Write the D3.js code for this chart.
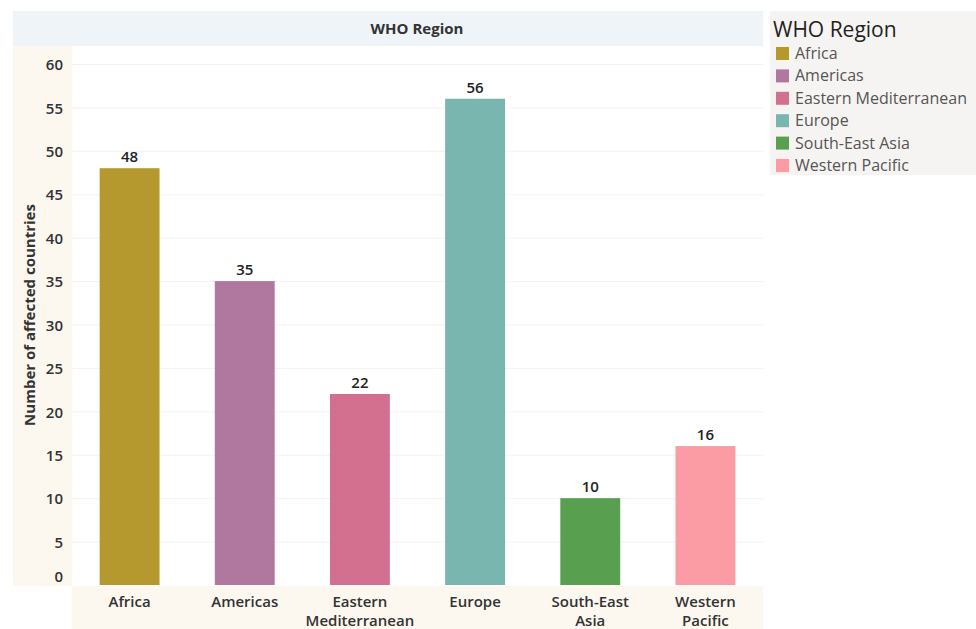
<!DOCTYPE html>
<html lang="en">
<head>
<meta charset="UTF-8">
<title>WHO Region</title>
<script src="https://cdn.jsdelivr.net/npm/d3@7"></script>
<style>
  body { margin: 0; background: #fff; }
  svg text { font-family: "Open Sans", "Noto Sans", sans-serif; }
</style>
</head>
<body>
<script>
  var regions = ['Africa', 'Americas', 'Eastern Mediterranean', 'Europe', 'South-East Asia', 'Western Pacific'];
  var axisLabels = [['Africa'], ['Americas'], ['Eastern', 'Mediterranean'], ['Europe'], ['South-East', 'Asia'], ['Western', 'Pacific']];
  var counts = [48, 35, 22, 56, 10, 16];
  var colors = ['#b5992e', '#b0789f', '#d3708f', '#7ab6b0', '#58a04f', '#fb9ba4'];
  var yTicks = [0, 5, 10, 15, 20, 25, 30, 35, 40, 45, 50, 55, 60];

  var W = 976, H = 629;
  var plot = {left: 72, right: 763, top: 46, bottom: 585};

  var svg = d3.select('body').append('svg').attr('width', W).attr('height', H);

  var x = d3.scaleBand().domain(regions).range([plot.left, plot.right]).paddingInner(0.48).paddingOuter(0.24);
  var y = d3.scaleLinear().domain([0, 60]).range([plot.bottom, 64]);
  var color = d3.scaleOrdinal().domain(regions).range(colors);

  // backgrounds
  svg.append('rect').attr('x', 13).attr('y', 11).attr('width', plot.right - 13).attr('height', 35).attr('fill', '#eef4f8');
  svg.append('rect').attr('x', 13).attr('y', plot.top).attr('width', plot.left - 13).attr('height', plot.bottom - plot.top + 1).attr('fill', '#fcf8f0');
  svg.append('rect').attr('x', plot.left).attr('y', plot.bottom + 1).attr('width', plot.right - plot.left).attr('height', H - plot.bottom).attr('fill', '#fcf8f0');

  svg.append('text').attr('x', 417).attr('y', 34)
    .attr('text-anchor', 'middle').attr('font-size', 15).attr('font-weight', 700).attr('fill', '#333')
    .text('WHO Region');

  // gridlines
  svg.append('g').selectAll('line').data(yTicks.filter(function(d){ return d > 0; })).enter().append('line')
    .attr('x1', plot.left).attr('x2', plot.right)
    .attr('y1', function(d){ return y(d) + 0.5; }).attr('y2', function(d){ return y(d) + 0.5; })
    .attr('stroke', '#f3f3f3');

  // y axis (bottom label nudged up to stay inside the pane)
  var yAxis = svg.append('g').attr('transform', 'translate(' + (plot.left - 9) + ',0)')
    .call(d3.axisLeft(y).tickValues(yTicks).tickSize(0).tickPadding(0));
  yAxis.select('.domain').remove();
  yAxis.selectAll('text').attr('font-size', 15).attr('font-weight', 600).attr('fill', '#333')
    .attr('dy', function(d){ return d === 0 ? '-0.22em' : '0.38em'; });

  svg.append('text').attr('transform', 'translate(35,' + 315 + ') rotate(-90)')
    .attr('text-anchor', 'middle').attr('font-size', 15).attr('font-weight', 700).attr('fill', '#333')
    .text('Number of affected countries');

  // bars
  svg.append('g').selectAll('rect').data(regions).enter().append('rect')
    .attr('x', function(d){ return x(d); })
    .attr('width', x.bandwidth())
    .attr('y', function(d, i){ return y(counts[i]); })
    .attr('height', function(d, i){ return y(0) - y(counts[i]); })
    .attr('fill', function(d){ return color(d); });

  svg.append('g').selectAll('text').data(regions).enter().append('text')
    .attr('x', function(d){ return x(d) + x.bandwidth() / 2; })
    .attr('y', function(d, i){ return y(counts[i]) - 6; })
    .attr('text-anchor', 'middle').attr('font-size', 15).attr('font-weight', 600).attr('fill', '#222')
    .text(function(d, i){ return counts[i]; });

  // x labels
  var xl = svg.append('g').selectAll('text').data(regions).enter().append('text')
    .attr('x', function(d){ return x(d) + x.bandwidth() / 2; })
    .attr('y', 607)
    .attr('text-anchor', 'middle').attr('font-size', 15).attr('font-weight', 600).attr('fill', '#333');
  xl.each(function(d, i){
    var t = d3.select(this);
    axisLabels[i].forEach(function(line, j){
      t.append('tspan').attr('x', x(d) + x.bandwidth() / 2).attr('dy', j === 0 ? 0 : 19).text(line);
    });
  });

  // legend
  var lg = svg.append('g');
  lg.append('rect').attr('x', 770).attr('y', 11).attr('width', W - 770).attr('height', 164).attr('fill', '#f6f4f2');
  lg.append('text').attr('x', 773).attr('y', 37).attr('font-size', 21).attr('fill', '#222').text('WHO Region');
  var items = lg.selectAll('g.item').data(regions).enter().append('g')
    .attr('transform', function(d, i){ return 'translate(776,' + (53 + i * 22.4) + ')'; });
  items.append('rect').attr('x', 0).attr('y', -6).attr('width', 13).attr('height', 13).attr('fill', function(d){ return color(d); });
  items.append('text').attr('x', 19).attr('y', 6).attr('font-size', 16).attr('fill', '#555').text(function(d){ return d; });
</script>
</body>
</html>
